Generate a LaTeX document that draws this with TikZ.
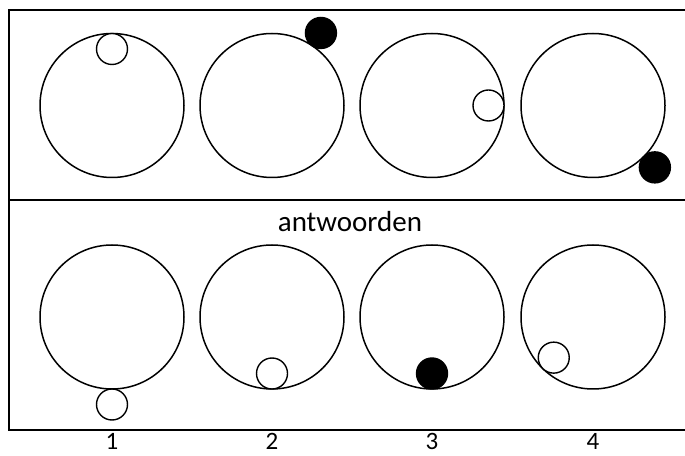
\documentclass[tikz,border=0pt]{standalone}
\usepackage{fontspec}
\setmainfont{Carlito}
\usepackage{tikz}
\usetikzlibrary{positioning, calc}
\tikzset{
  frameline/.style={line width=2.6pt,black},
  wheel/.style={circle,draw=black,line width=1.5pt,minimum size=144pt,inner sep=0pt,outer sep=0pt},
  ball/.style={circle,draw=black,line width=1.4pt,fill=white,minimum size=31pt,inner sep=0pt,outer sep=0pt},
  ballfull/.style={ball,fill=black},
  caption/.style={font=\fontsize{29}{31}\selectfont,anchor=base},
  number/.style={font=\fontsize{25}{27}\selectfont,anchor=base,inner sep=0pt},
}

\begin{document}
\begin{tikzpicture}[x=1pt,y=1pt]
	    \useasboundingbox (0,0) rectangle (685,455);
	    % frame
	    \coordinate (F1) at (9,445);
	    \coordinate (F2) at (685,445);
	    \coordinate (F3) at (9,255);
	    \coordinate (F4) at (685,255);
	    \coordinate (F5) at (9,25);
	    \coordinate (F6) at (685,25);
	    \draw[frameline] (F2) -- (F1) -- (F5) -- (F6);
	    \draw[frameline] (F3) -- (F4);
	    % top row
	    \node[wheel] (A1) at (112,349.5) {};
	    \node[wheel] (A2) at (272,349.5) {};
	    \node[wheel] (A3) at (432,349.5) {};
	    \node[wheel] (A4) at (593,349.5) {};
	    \node[ball] (S1) at ($(A1)+(90:56.5)$) {};
	    \node[ballfull] (S2) at ($(A2)+(56:87.5)$) {};
	    \node[ball] (S3) at ($(A3)+(0:56.5)$) {};
	    \node[ballfull] (S4) at ($(A4)+(-45:87.5)$) {};
	    % answers
	    \node[caption] (T) at (350,223) {antwoorden};
	    \node[wheel] (B1) at (112,138) {};
	    \node[wheel] (B2) at (272,138) {};
	    \node[wheel] (B3) at (432,138) {};
	    \node[wheel] (B4) at (593,138) {};
	    \node[ball] (R1) at ($(B1)+(-90:87.5)$) {};
	    \node[ball] (R2) at ($(B2)+(-90:56.5)$) {};
	    \node[ballfull] (R3) at ($(B3)+(-90:56.5)$) {};
	    \node[ball] (R4) at ($(B4)+(-134:56.5)$) {};
	    \foreach \i in {1,...,4}
	    	\node[number] (N\i) at ($(B\i)+(0,-132)$) {\i};
	\end{tikzpicture}
\end{document}
